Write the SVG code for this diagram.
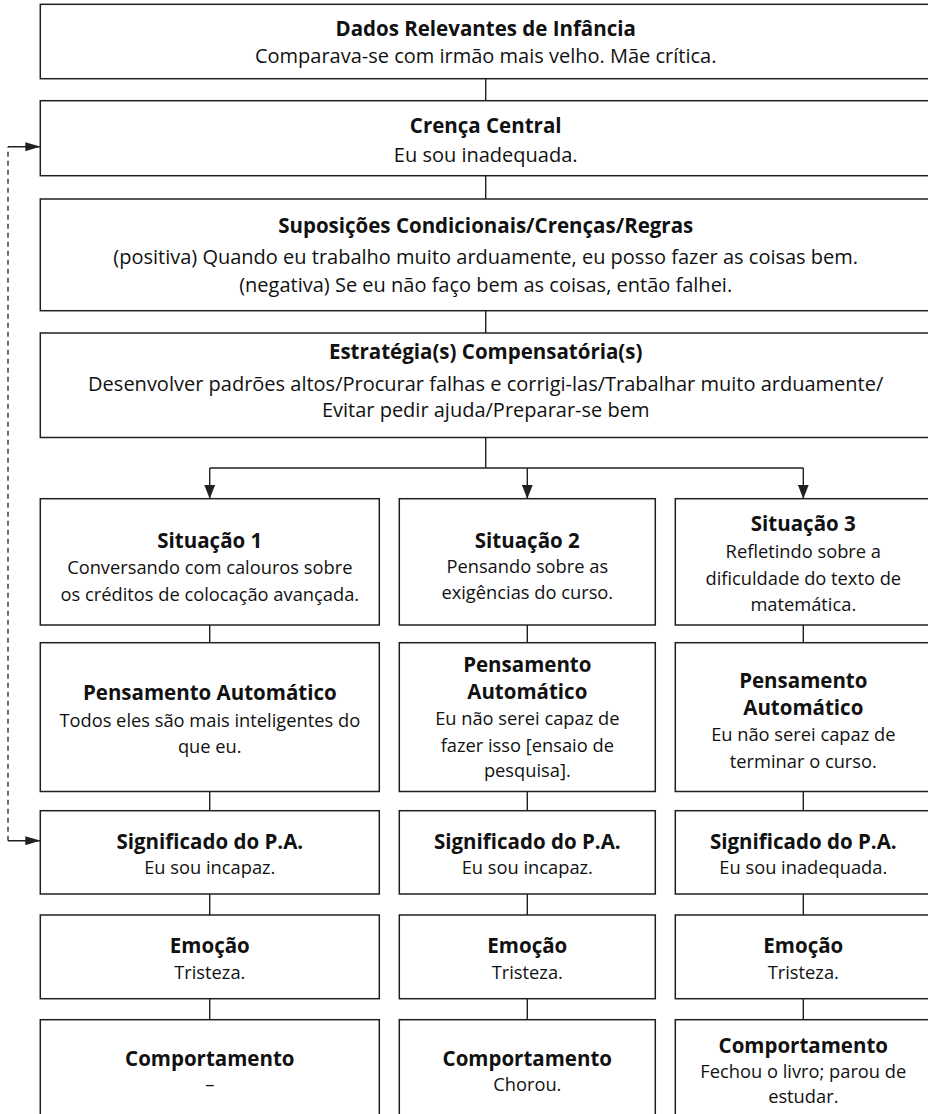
<svg xmlns="http://www.w3.org/2000/svg" width="928" height="1114" viewBox="0 0 928 1114">
<defs>
<marker id="arr" markerUnits="userSpaceOnUse" markerWidth="14" markerHeight="11" refX="14" refY="5.5" orient="auto">
<path d="M0,0 L14,5.5 L0,11 z" fill="#231f20"/>
</marker>
<marker id="arrS" markerUnits="userSpaceOnUse" markerWidth="15" markerHeight="9" refX="15" refY="4.5" orient="auto">
<path d="M0,0 L15,4.5 L0,9 z" fill="#231f20"/>
</marker>
</defs>
<style>
.box{fill:#fff;stroke:#231f20;stroke-width:1.5}
.ln{fill:none;stroke:#231f20;stroke-width:1.4}
.dash{fill:none;stroke:#231f20;stroke-width:1.3;stroke-dasharray:5 4}
text{font-family:"Open Sans","Noto Sans","Liberation Sans",sans-serif;fill:#111;text-anchor:middle}
.t{font-weight:bold;font-size:20.5px}
.w{font-size:20px}
.c{font-size:18.3px}
</style>
<g id="connectors">
<line class="ln" x1="485.7" y1="78.7" x2="485.7" y2="100.7"/>
<line class="ln" x1="485.7" y1="175.7" x2="485.7" y2="199"/>
<line class="ln" x1="485.7" y1="310.7" x2="485.7" y2="333"/>
<line class="ln" x1="485.7" y1="437.5" x2="485.7" y2="468"/>
<line class="ln" x1="209.7" y1="468" x2="803.3" y2="468"/>
<line class="ln" x1="209.7" y1="468" x2="209.7" y2="498.7" marker-end="url(#arr)"/>
<line class="ln" x1="527.3" y1="468" x2="527.3" y2="498.7" marker-end="url(#arr)"/>
<line class="ln" x1="803.3" y1="468" x2="803.3" y2="498.7" marker-end="url(#arr)"/>
<line class="ln" x1="209.7" y1="625" x2="209.7" y2="642.7"/>
<line class="ln" x1="527.3" y1="625" x2="527.3" y2="642.7"/>
<line class="ln" x1="803.3" y1="625" x2="803.3" y2="642.7"/>
<line class="ln" x1="209.7" y1="791.5" x2="209.7" y2="810.7"/>
<line class="ln" x1="527.3" y1="791.5" x2="527.3" y2="810.7"/>
<line class="ln" x1="803.3" y1="791.5" x2="803.3" y2="810.7"/>
<line class="ln" x1="209.7" y1="894" x2="209.7" y2="915"/>
<line class="ln" x1="527.3" y1="894" x2="527.3" y2="915"/>
<line class="ln" x1="803.3" y1="894" x2="803.3" y2="915"/>
<line class="ln" x1="209.7" y1="998.7" x2="209.7" y2="1019.7"/>
<line class="ln" x1="527.3" y1="998.7" x2="527.3" y2="1019.7"/>
<line class="ln" x1="803.3" y1="998.7" x2="803.3" y2="1019.7"/>
<line class="dash" x1="8" y1="840.7" x2="8" y2="146.7"/>
<line class="ln" x1="8" y1="840.7" x2="40.3" y2="840.7" marker-end="url(#arrS)"/>
<line class="ln" x1="8" y1="146.7" x2="40.3" y2="146.7" marker-end="url(#arrS)"/>
</g>
<g id="n-infancia">
<rect class="box" x="40.3" y="4.3" width="891" height="74.4"/>
<text class="t" x="485.7" y="35.7">Dados Relevantes de Infância</text>
<text class="w" x="485.7" y="63">Comparava-se com irmão mais velho. Mãe crítica.</text>
</g>
<g id="n-crenca">
<rect class="box" x="40.3" y="100.7" width="891" height="75"/>
<text class="t" x="485.7" y="133.3">Crença Central</text>
<text class="w" x="485.7" y="161.7">Eu sou inadequada.</text>
</g>
<g id="n-suposicoes">
<rect class="box" x="40.3" y="199" width="891" height="111.7"/>
<text class="t" x="485.7" y="232.7">Suposições Condicionais/Crenças/Regras</text>
<text class="w" x="485.7" y="264">(positiva) Quando eu trabalho muito arduamente, eu posso fazer as coisas bem.</text>
<text class="w" x="485.7" y="291.7">(negativa) Se eu não faço bem as coisas, então falhei.</text>
</g>
<g id="n-estrategias">
<rect class="box" x="40.3" y="333" width="891" height="104.5"/>
<text class="t" x="485.7" y="359.3">Estratégia(s) Compensatória(s)</text>
<text class="w" x="485.7" y="391">Desenvolver padrões altos/Procurar falhas e corrigi-las/Trabalhar muito arduamente/</text>
<text class="w" x="485.7" y="417.3">Evitar pedir ajuda/Preparar-se bem</text>
</g>
<g id="n-situacao1">
<rect class="box" x="40.3" y="498.7" width="339" height="126.3"/>
<text class="t" x="209.8" y="547.7">Situação 1</text>
<text class="c" x="209.8" y="574.3">Conversando com calouros sobre</text>
<text class="c" x="209.8" y="601">os créditos de colocação avançada.</text>
</g>
<g id="n-situacao2">
<rect class="box" x="399.3" y="498.7" width="256" height="126.3"/>
<text class="t" x="527.3" y="547.7">Situação 2</text>
<text class="c" x="527.3" y="573">Pensando sobre as</text>
<text class="c" x="527.3" y="598.5">exigências do curso.</text>
</g>
<g id="n-situacao3">
<rect class="box" x="675.3" y="498.7" width="256" height="126.3"/>
<text class="t" x="803.3" y="530.5">Situação 3</text>
<text class="c" x="803.3" y="557.5">Refletindo sobre a</text>
<text class="c" x="803.3" y="584.5">dificuldade do texto de</text>
<text class="c" x="803.3" y="611">matemática.</text>
</g>
<g id="n-pensamento1">
<rect class="box" x="40.3" y="642.7" width="339" height="148.8"/>
<text class="t" x="209.8" y="700">Pensamento Automático</text>
<text class="c" x="209.8" y="726.7">Todos eles são mais inteligentes do</text>
<text class="c" x="209.8" y="753.3">que eu.</text>
</g>
<g id="n-pensamento2">
<rect class="box" x="399.3" y="642.7" width="256" height="148.8"/>
<text class="t" x="527.3" y="672">Pensamento</text>
<text class="t" x="527.3" y="699">Automático</text>
<text class="c" x="527.3" y="725">Eu não serei capaz de</text>
<text class="c" x="527.3" y="751.5">fazer isso [ensaio de</text>
<text class="c" x="527.3" y="777">pesquisa].</text>
</g>
<g id="n-pensamento3">
<rect class="box" x="675.3" y="642.7" width="256" height="148.8"/>
<text class="t" x="803.3" y="687.7">Pensamento</text>
<text class="t" x="803.3" y="714.5">Automático</text>
<text class="c" x="803.3" y="741.3">Eu não serei capaz de</text>
<text class="c" x="803.3" y="768">terminar o curso.</text>
</g>
<g id="n-significado1">
<rect class="box" x="40.3" y="810.7" width="339" height="83.3"/>
<text class="t" x="209.8" y="849.3">Significado do P.A.</text>
<text class="c" x="209.8" y="874.3">Eu sou incapaz.</text>
</g>
<g id="n-significado2">
<rect class="box" x="399.3" y="810.7" width="256" height="83.3"/>
<text class="t" x="527.3" y="849.3">Significado do P.A.</text>
<text class="c" x="527.3" y="874.3">Eu sou incapaz.</text>
</g>
<g id="n-significado3">
<rect class="box" x="675.3" y="810.7" width="256" height="83.3"/>
<text class="t" x="803.3" y="849.3">Significado do P.A.</text>
<text class="c" x="803.3" y="874.3">Eu sou inadequada.</text>
</g>
<g id="n-emocao1">
<rect class="box" x="40.3" y="915" width="339" height="83.7"/>
<text class="t" x="209.8" y="952.7">Emoção</text>
<text class="c" x="209.8" y="979">Tristeza.</text>
</g>
<g id="n-emocao2">
<rect class="box" x="399.3" y="915" width="256" height="83.7"/>
<text class="t" x="527.3" y="952.7">Emoção</text>
<text class="c" x="527.3" y="979">Tristeza.</text>
</g>
<g id="n-emocao3">
<rect class="box" x="675.3" y="915" width="256" height="83.7"/>
<text class="t" x="803.3" y="952.7">Emoção</text>
<text class="c" x="803.3" y="979">Tristeza.</text>
</g>
<g id="n-comportamento1">
<rect class="box" x="40.3" y="1019.7" width="339" height="110"/>
<text class="t" x="209.8" y="1066">Comportamento</text>
<text class="c" x="209.8" y="1091">–</text>
</g>
<g id="n-comportamento2">
<rect class="box" x="399.3" y="1019.7" width="256" height="110"/>
<text class="t" x="527.3" y="1066">Comportamento</text>
<text class="c" x="527.3" y="1091">Chorou.</text>
</g>
<g id="n-comportamento3">
<rect class="box" x="675.3" y="1019.7" width="256" height="110"/>
<text class="t" x="803.3" y="1052.7">Comportamento</text>
<text class="c" x="803.3" y="1078">Fechou o livro; parou de</text>
<text class="c" x="803.3" y="1103.3">estudar.</text>
</g>
</svg>
